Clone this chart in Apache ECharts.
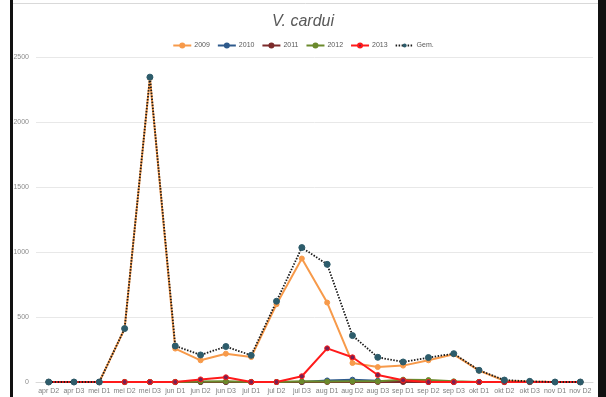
<!DOCTYPE html>
<html>
<head>
<meta charset="utf-8">
<script src="https://cdn.jsdelivr.net/npm/echarts@6/dist/echarts.min.js"></script>
<style>
  html, body { margin: 0; padding: 0; background: #fff; }
  #chart { width: 606px; height: 397px; }
</style>
</head>
<body>
<div id="chart"></div>
<script>
// decades (D1..D3) per month
const categories = ['apr D2', 'apr D3', 'mei D1', 'mei D2', 'mei D3', 'jun D1', 'jun D2', 'jun D3', 'jul D1', 'jul D2', 'jul D3',
    'aug D1', 'aug D2', 'aug D3', 'sep D1', 'sep D2', 'sep D3', 'okt D1', 'okt D2', 'okt D3', 'nov D1', 'nov D2'];

const y2009 = [0, 0, 0, 410, 2340, 257, 167, 218, 192, 598, 950, 611, 146, 115, 126, 167, 213, 87, 10, 3, 0, 0];
const y2010 = [0, 0, 0, 0, 0, 0, 0, 0, 0, 0, 0, 12, 18, 10, 3, 0, 0, 0, 0, 0, 0, 0];
const y2011 = [0, 0, 0, 0, 0, 0, 0, 0, 0, 0, 0, 0, 0, 0, 0, 0, 0, 0, 0, 0, 0, 0];
const y2012 = [0, 0, 0, 0, 0, 0, 4, 5, 0, 0, 5, 3, 5, 5, 18, 15, 5, 0, 0, 0, 0, 0];
const y2013 = [0, 0, 0, 0, 0, 0, 20, 36, 0, 0, 44, 259, 190, 54, 13, 0, 0, 0, 0, 0, 0, 0];
const gem   = [0, 0, 0, 411, 2345, 277, 208, 273, 205, 621, 1034, 905, 357, 190, 154, 188, 218, 90, 15, 5, 0, 0];

const yTicks = { min: 0, max: 2500, interval: 500 };

const font = 'Liberation Sans, Open Sans, sans-serif';

function lineSeries(name, data, color, marker) {
    return {
        name: name,
        type: 'line',
        data: data,
        symbol: 'circle',
        symbolSize: 5,
        lineStyle: { color: color, width: 2 },
        itemStyle: { color: marker || color, borderColor: color, borderWidth: 1 }
    };
}

const chart = echarts.init(document.getElementById('chart'), null, { renderer: 'canvas' });

const option = {
    animation: false,
    backgroundColor: '#fff',
    title: {
        text: 'V. cardui',
        left: 'center',
        top: 9,
        textStyle: { fontFamily: font, fontSize: 16, fontStyle: 'italic', fontWeight: 'normal', color: '#595959' }
    },
    legend: {
        top: 37,
        left: 'center',
        itemWidth: 18,
        itemHeight: 5,
        itemGap: 7,
        textStyle: { fontFamily: font, fontSize: 7, color: '#595959', padding: [0, 0, 0, -2] },
        data: ['2009', '2010', '2011', '2012', '2013', 'Gem.']
    },
    grid: { left: 36, right: 13, top: 57, bottom: 15, containLabel: false },
    xAxis: {
        type: 'category',
        data: categories,
        boundaryGap: true,
        axisLine: { show: true, lineStyle: { color: '#d9d9d9' } },
        axisTick: { show: false },
        axisLabel: { fontFamily: font, fontSize: 7, color: '#7f7f7f', margin: 6, interval: 0 }
    },
    yAxis: {
        type: 'value',
        min: yTicks.min,
        max: yTicks.max,
        interval: yTicks.interval,
        axisLine: { show: false },
        axisTick: { show: false },
        axisLabel: { fontFamily: font, fontSize: 7, color: '#8c8c8c', margin: 7, formatter: v => String(v) },
        splitLine: { lineStyle: { color: '#e8e8e8', width: 1 } }
    },
    series: [
        lineSeries('2009', y2009, '#f79a4a'),
        lineSeries('2010', y2010, '#2e5a8c'),
        lineSeries('2011', y2011, '#7b2a2a'),
        lineSeries('2012', y2012, '#6b8a2c'),
        lineSeries('2013', y2013, '#ff1a1a', '#7a2050'),
        {
            name: 'Gem.',
            type: 'line',
            data: gem,
            symbol: 'circle',
            symbolSize: 6,
            lineStyle: { color: '#1a1a1a', width: 1.8, type: [1.5, 1.5] },
            itemStyle: { color: '#2d5c6b', borderColor: '#2d5c6b' },
            z: 3
        }
    ],
    graphic: [
        { type: 'rect', shape: { x: 10, y: 0, width: 3, height: 397 }, style: { fill: '#111' }, silent: true },
        { type: 'rect', shape: { x: 598, y: 0, width: 8, height: 397 }, style: { fill: '#111' }, silent: true },
        { type: 'line', shape: { x1: 13, y1: 3.5, x2: 598, y2: 3.5 }, style: { stroke: '#d9d9d9', lineWidth: 1 }, silent: true }
    ]
};

chart.setOption(option);
</script>
</body>
</html>
